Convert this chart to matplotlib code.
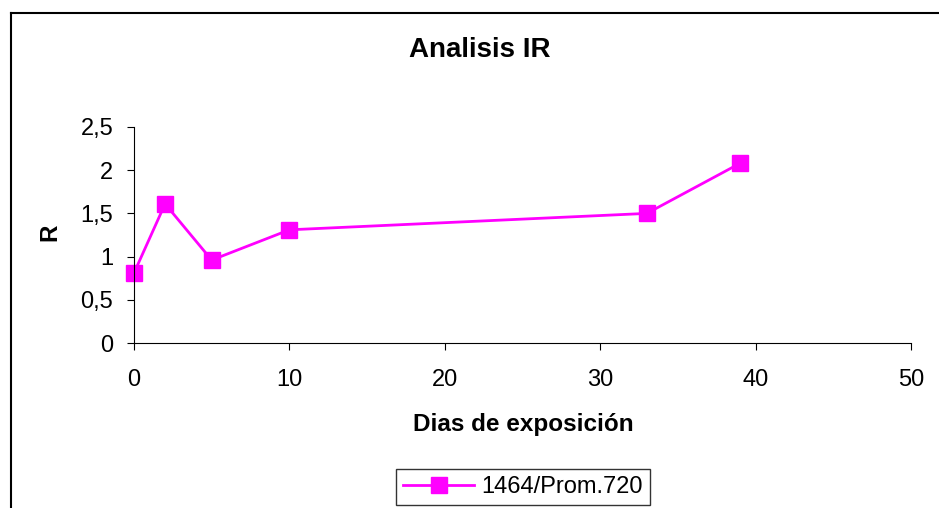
import matplotlib.pyplot as plt
from matplotlib.lines import Line2D
from matplotlib.ticker import FuncFormatter

plt.rcParams['font.family'] = ['Liberation Sans', 'DejaVu Sans']

dias = [0, 2, 5, 10, 33, 39]
r_vals = [0.81, 1.61, 0.96, 1.31, 1.50, 2.08]
serie = '1464/Prom.720'

fig = plt.figure(figsize=(9.39, 5.08), dpi=100)
ax = fig.add_axes([0.1427, 0.3248, 0.8275, 0.4252])

ax.plot(dias, r_vals, color='#FF00FF', lw=2, marker='s', ms=11,
        label=serie, clip_on=False)

ax.set_xlim(0, 50)
ax.set_ylim(0, 2.5)
ax.set_xticks([0, 10, 20, 30, 40, 50])
ax.set_yticks([0, 0.5, 1, 1.5, 2, 2.5])
ax.yaxis.set_major_formatter(FuncFormatter(lambda v, p: ('%g' % v).replace('.', ',')))
ax.spines['top'].set_visible(False)
ax.spines['right'].set_visible(False)
ax.tick_params(direction='out', length=5, labelsize=17)
ax.tick_params(axis='x', pad=14)
ax.tick_params(axis='y', pad=10)

ax.set_xlabel('Dias de exposición', fontsize=17.5, fontweight='bold')
ax.xaxis.set_label_coords(0.5006, -0.324)
ax.set_ylabel('R', fontsize=17.5, fontweight='bold', va='center')
ax.yaxis.set_label_coords(-0.108, 0.514)
fig.text(0.511, 0.902, 'Analisis IR', ha='center', va='center',
         fontsize=20, fontweight='bold')

leg = ax.legend(loc='center', bbox_to_anchor=(0.557, 0.041),
                bbox_transform=fig.transFigure, fontsize=17, frameon=True,
                fancybox=False, edgecolor='black', handlelength=3,
                handletextpad=0.3, borderpad=0.3, borderaxespad=0)
leg.get_frame().set_linewidth(1)

# outer chart border (left and top only visible)
fig.add_artist(Line2D([0.0112, 0.0112], [0, 0.975], color='black', lw=1.5,
                      transform=fig.transFigure))
fig.add_artist(Line2D([0.0112, 1], [0.975, 0.975], color='black', lw=1.5,
                      transform=fig.transFigure))

fig.savefig('out.png', dpi=100)
